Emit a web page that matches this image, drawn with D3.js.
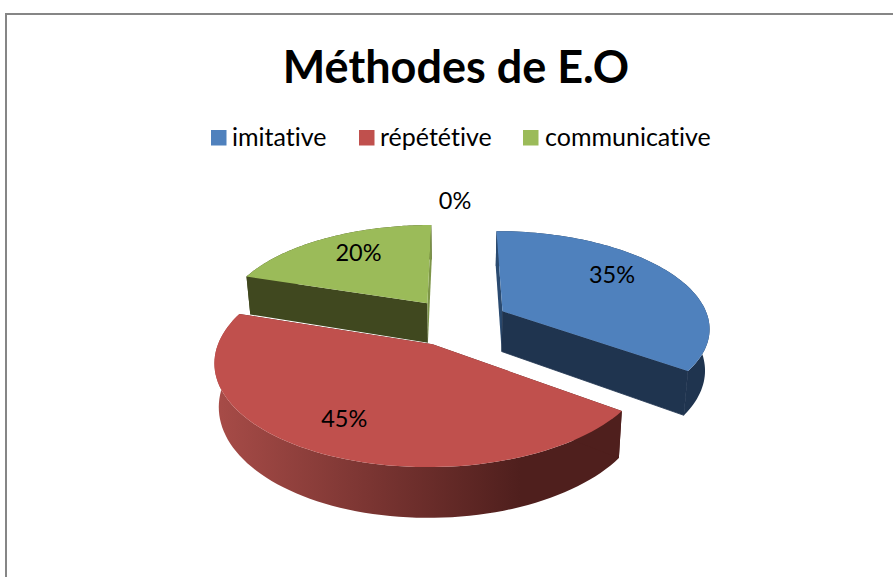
<!DOCTYPE html>
<html><head><meta charset="utf-8">
<style>html,body{margin:0;padding:0;background:#fff}svg{display:block}text{font-family:Lato,"Noto Sans",sans-serif;fill:#000;font-variant-ligatures:none;font-kerning:normal}</style>
<script src="https://cdn.jsdelivr.net/npm/d3@7/dist/d3.min.js"></script>
</head><body><svg id="c" width="893" height="577"></svg>
<script>
const titleText = "Méthodes de E.O";
const categories = ["imitative", "répététive", "communicative", ""];
const values = [35, 45, 20, 0];
const topColors = ["#4f81bd", "#c0504d", "#9bbb59", "#8064a2"];
const startWallColors = ["#2a4a70", "#4f1f1d", "#40481f", "#40314f"];
const endWallColors = ["#1f344f", "#4f1f1d", "#7d9548", "#40314f"];
const outerWallColors = ["#1f344f", "url(#redSide)", "#40481f", "#40314f"];
const labelOffsets = [[7, -13], [-22, 14], [-5, -10], [-2, -50]];
const legendSwatchX = [211, 359, 523];
const legendTextX = [232, 380, 545];

const W = 893, H = 577;
const cx = 457, horizonY = -289, A = 611, D = 1320, R = 207, explode = 52, thickness = 41, bottomShrink = 0.982;

const svg = d3.select("#c");
const defs = svg.append("defs");
const grad = defs.append("linearGradient").attr("id", "redSide")
  .attr("gradientUnits", "userSpaceOnUse").attr("x1", 214).attr("x2", 520).attr("y1", 0).attr("y2", 0);
grad.append("stop").attr("offset", 0).attr("stop-color", "#a84c48");
grad.append("stop").attr("offset", 1).attr("stop-color", "#4f1f1d");

svg.append("rect").attr("x", 6).attr("y", 14).attr("width", W + 20).attr("height", H + 20)
  .attr("fill", "#fff").attr("stroke", "#868686").attr("stroke-width", 2);

svg.append("text").attr("x", 456).attr("y", 83).attr("text-anchor", "middle")
  .attr("font-size", 45).attr("font-weight", 700).text(titleText);

const color = d3.scaleOrdinal().domain(categories).range(topColors);

const legend = svg.append("g");
categories.filter(c => c).forEach((c, i) => {
  legend.append("rect").attr("x", legendSwatchX[i]).attr("y", 130).attr("width", 15.5).attr("height", 15.5).attr("fill", color(c));
  legend.append("text").attr("x", legendTextX[i]).attr("y", 146).attr("font-size", 25).text(c);
});

const pie = d3.pie().sort(null).value(d => d);
const arcs = pie(values);
const line = d3.line().x(p => p[0]).y(p => p[1]);

function project(X, Y, z) {
  const s = 1 / (1 - Y / D);
  const k = z ? bottomShrink : 1;
  return [cx + X * s * k, horizonY + A * s + (z ? thickness * s : 0)];
}
function pt(arc, ang, r, z) {
  const mid = (arc.startAngle + arc.endAngle) / 2;
  const ex = explode * Math.sin(mid), ey = -explode * Math.cos(mid);
  return project(ex + r * Math.sin(ang), ey - r * Math.cos(ang), z);
}
function arcPts(arc, z) {
  const n = 80;
  return d3.range(n + 1).map(i => pt(arc, arc.startAngle + (arc.endAngle - arc.startAngle) * i / n, R, z));
}
function face(g, pts, fill, seam) {
  g.append("path").attr("d", line(pts) + "Z").attr("fill", fill)
    .attr("stroke", seam ? fill : "none").attr("stroke-width", seam ? 0.8 : 0);
}

const order = [2, 0, 1];
order.forEach(i => {
  const a = arcs[i];
  if (a.endAngle - a.startAngle <= 0) return;
  const g = svg.append("g");
  const topArc = arcPts(a, false), botArc = arcPts(a, true);
  const apexT = pt(a, a.startAngle, 0, false), apexB = pt(a, a.startAngle, 0, true);
  const last = topArc.length - 1;
  face(g, topArc.concat(botArc.slice().reverse()), outerWallColors[i], false);
  face(g, [apexT, topArc[0], botArc[0], apexB], startWallColors[i], false);
  face(g, [apexT, topArc[last], botArc[last], apexB], endWallColors[i], i === 0);
  face(g, [apexT].concat(topArc), color(categories[i]), false);
});

arcs.forEach((a, i) => {
  const mid = (a.startAngle + a.endAngle) / 2;
  const p = pt(a, mid, R * 0.6, false);
  svg.append("text").attr("x", p[0] + labelOffsets[i][0]).attr("y", p[1] + labelOffsets[i][1])
    .attr("text-anchor", "middle").attr("dominant-baseline", "central").attr("font-size", 23.5).text(values[i] + "%");
});
</script></body></html>
